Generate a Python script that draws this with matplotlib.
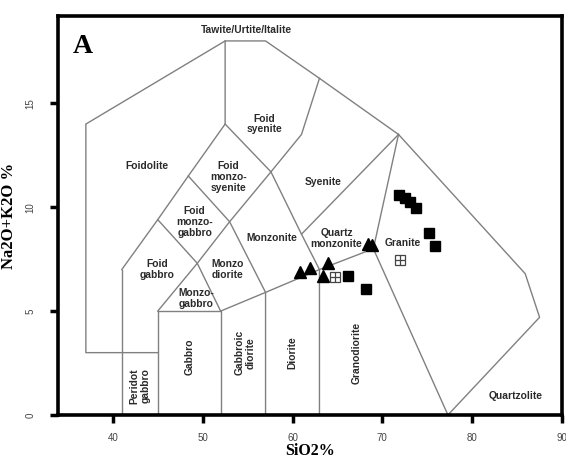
import matplotlib
matplotlib.use("Agg")
import matplotlib.pyplot as plt

# ---- field boundary polylines (SiO2, Na2O+K2O) ----
outer_line = [(45, 3), (37, 3), (37, 14), (52.5, 18), (57, 18), (63, 16.2),
              (71.8, 13.5), (85.9, 6.8), (87.5, 4.7), (77.3, 0)]
line_x41 = [(41, 0), (41, 7)]
gabbro_box = [(45, 0), (45, 5), (52, 5), (52, 0)]
foidolite_inner = [(41, 7), (45, 9.4), (48.4, 11.5), (52.5, 14), (52.5, 18)]
foidsyenite_low = [(52.5, 14), (57.6, 11.7), (61, 13.5), (63, 16.2)]
monzo_axis = [(45, 5), (49.4, 7.3), (53, 9.3), (57.6, 11.7)]
foidgabbro_line = [(45, 9.4), (49.4, 7.3), (52, 5)]
diorite_line = [(48.4, 11.5), (53, 9.3), (57, 5.9), (57, 0)]
base_line = [(52, 5), (57, 5.9), (63, 7), (69, 8), (71.8, 13.5)]
monzonite_right = [(57.6, 11.7), (61, 8.7), (63, 7), (63, 0)]
qmonz_line = [(61, 8.7), (71.8, 13.5)]
granite_line = [(69, 8), (77.3, 0)]
boundaries = [outer_line, line_x41, gabbro_box, foidolite_inner, foidsyenite_low,
              monzo_axis, foidgabbro_line, diorite_line, base_line,
              monzonite_right, qmonz_line, granite_line]

# ---- samples ----
tri_x = [68.4, 68.8, 64.0, 61.9, 60.8, 63.4]
tri_y = [8.25, 8.2, 7.32, 7.05, 6.9, 6.68]
sq_x = [71.9, 72.5, 73.1, 73.8, 75.2, 75.9, 66.2, 68.2]
sq_y = [10.58, 10.43, 10.24, 9.94, 8.78, 8.12, 6.7, 6.06]
open_x = [72.0, 64.7]
open_y = [7.48, 6.65]

# ---- field labels ----
labels = [
    ("Foidolite", 43.75, 12.0, 0),
    ("Foid\nsyenite", 56.9, 14.0, 0),
    ("Foid\nmonzo-\nsyenite", 52.9, 11.45, 0),
    ("Foid\nmonzo-\ngabbro", 49.1, 9.3, 0),
    ("Foid\ngabbro", 44.9, 7.0, 0),
    ("Monzo\ndiorite", 52.8, 7.0, 0),
    ("Monzo-\ngabbro", 49.3, 5.6, 0),
    ("Monzonite", 57.7, 8.5, 0),
    ("Syenite", 63.4, 11.2, 0),
    ("Quartz\nmonzonite", 64.9, 8.5, 0),
    ("Granite", 72.3, 8.3, 0),
    ("Gabbro", 48.6, 2.8, 90),
    ("Gabbroic\ndiorite", 54.7, 3.0, 90),
    ("Diorite", 60.0, 3.0, 90),
    ("Peridot\ngabbro", 43.0, 1.4, 90),
    ("Granodiorite", 67.1, 2.97, 90),
    ("Quartzolite", 84.8, 0.91, 0),
    ("Tawite/Urtite/Italite", 54.9, 18.55, 0),
]

x_ticks = [40, 50, 60, 70, 80, 90]
y_ticks = [0, 5, 10, 15]

fig = plt.figure(figsize=(5.66, 4.61), dpi=100)
ax = fig.add_axes([0.1025, 0.0998, 0.8905, 0.8655])

for line in boundaries:
    xs = [p[0] for p in line]
    ys = [p[1] for p in line]
    ax.plot(xs, ys, color="#808080", lw=1.0, zorder=1)

for txt, x, y, rot in labels:
    ax.text(x, y, txt, ha="center", va="center", rotation=rot,
            fontsize=7.4, fontweight="bold", color="#2a2a2a",
            family="Liberation Sans", linespacing=1.1, zorder=2)

ax.plot(tri_x, tri_y, linestyle="none", marker="^", ms=8.5, color="black", zorder=4)
ax.plot(sq_x, sq_y, linestyle="none", marker="s", ms=7, color="black", zorder=4)
ax.plot(open_x, open_y, linestyle="none", marker="s", ms=7, mfc="white",
        mec="#444444", mew=0.9, zorder=4)
ax.plot(open_x, open_y, linestyle="none", marker="+", ms=7, mec="#444444",
        mew=0.9, zorder=5)

ax.text(0.03, 0.955, "A", transform=ax.transAxes, ha="left", va="top",
        fontsize=20, fontweight="bold", family="Liberation Serif", color="black")

ax.set_xlim(33.9, 90)
ax.set_ylim(0, 19.2)
ax.set_xticks(x_ticks)
ax.set_yticks(y_ticks)
ax.set_xticklabels([str(t) for t in x_ticks], fontsize=7, color="#444444",
                   family="Liberation Sans")
ax.set_yticklabels([str(t) for t in y_ticks], fontsize=7, color="#444444",
                   family="Liberation Sans", rotation=90, va="center")
ax.tick_params(axis="both", direction="out", length=6, width=2.5, color="black")
ax.tick_params(axis="x", pad=7)
ax.tick_params(axis="y", pad=10)
for s in ax.spines.values():
    s.set_linewidth(2.6)
    s.set_color("black")

ax.set_xlabel("SiO2%", fontsize=11.5, fontweight="bold", family="Liberation Serif",
              labelpad=0)
ax.set_ylabel("Na2O+K2O %", fontsize=12, fontweight="bold", family="Liberation Serif",
              labelpad=6)

fig.savefig("out.png", dpi=100)
